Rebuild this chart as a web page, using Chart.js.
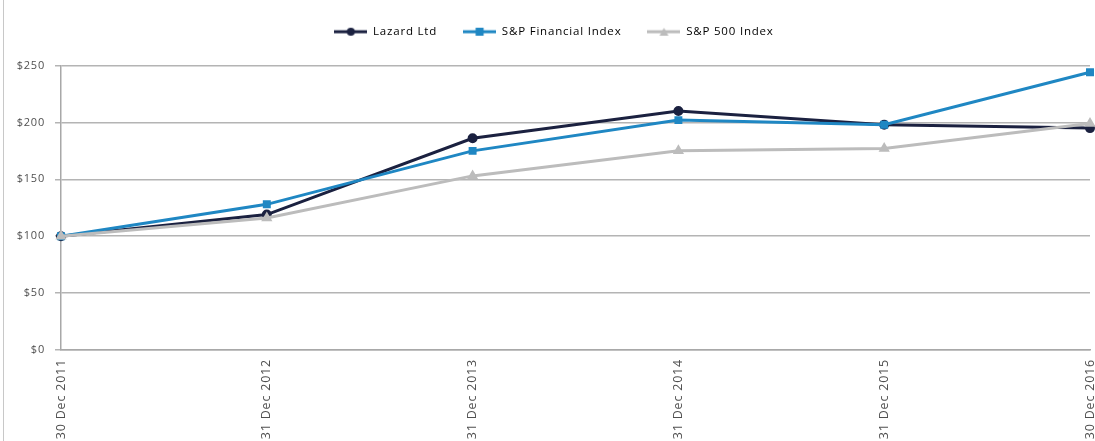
<!DOCTYPE html>
<html>
<head>
<meta charset="utf-8">
<script src="https://cdn.jsdelivr.net/npm/chart.js@4.4.1/dist/chart.umd.min.js"></script>
<style>
  html, body { margin: 0; padding: 0; background: #fff; overflow: hidden; }
  #wrap { position: absolute; left: 0; top: 0; width: 1108px; height: 441px; }
  #edge { position: absolute; left: 3px; top: 0; width: 0; height: 441px; border-left: 1px solid #c8c8c8; }
</style>
</head>
<body>
<div id="wrap"><canvas id="chart" width="1108" height="441"></canvas></div>
<div id="edge"></div>
<script>
const dates = ['30 Dec 2011', '31 Dec 2012', '31 Dec 2013', '31 Dec 2014', '31 Dec 2015', '30 Dec 2016'];
const lazard = [100, 119, 186, 210, 198, 195];
const spFinancial = [100, 128, 175, 202, 198, 244];
const sp500 = [100, 116, 153, 175, 177, 199];
const yTicks = [0, 50, 100, 150, 200, 250];

// legend icon: short line with the marker in the middle
function legendIcon(color, shape) {
    const c = document.createElement('canvas');
    c.width = 33; c.height = 10;
    const ctx = c.getContext('2d');
    ctx.strokeStyle = color;
    ctx.fillStyle = color;
    ctx.lineWidth = 3;
    ctx.beginPath();
    ctx.moveTo(0, 5); ctx.lineTo(33, 5);
    ctx.stroke();
    ctx.beginPath();
    if (shape === 'circle') {
        ctx.arc(16.5, 5, 4, 0, Math.PI * 2);
    } else if (shape === 'rect') {
        ctx.rect(12.5, 1, 8, 8);
    } else {
        ctx.moveTo(16.5, 1); ctx.lineTo(21, 9); ctx.lineTo(12, 9); ctx.closePath();
    }
    ctx.fill();
    return c;
}

const series = [
    { label: 'Lazard Ltd', data: lazard, color: '#1b2140', shape: 'circle' },
    { label: 'S&P Financial Index', data: spFinancial, color: '#1f87c3', shape: 'rect' },
    { label: 'S&P 500 Index', data: sp500, color: '#bcbcbc', shape: 'triangle' }
];

// wider letter spacing, like the original export; extra gap under the legend
const spacing = {
    id: 'spacing',
    beforeInit: function (chart) {
        const fit = chart.legend.fit;
        chart.legend.fit = function () { fit.call(this); this.height += 18; };
    },
    beforeUpdate: function (chart) { chart.ctx.letterSpacing = '0.8px'; },
    beforeDraw: function (chart) { chart.ctx.letterSpacing = '0.8px'; }
};

new Chart(document.getElementById('chart'), {
    type: 'line',
    data: {
        labels: dates,
        datasets: series.map(function (s, i) {
            return {
                label: s.label,
                data: s.data,
                borderColor: s.color,
                backgroundColor: s.color,
                borderWidth: 3,
                pointStyle: s.shape,
                pointRadius: 3.5,
                pointHoverRadius: 3.5,
                tension: 0,
                fill: false,
                order: 3 - i
            };
        })
    },
    plugins: [spacing],
    options: {
        responsive: false,
        animation: false,
        layout: { padding: { top: 0, left: 0, right: 0, bottom: 0 } },
        scales: {
            x: {
                offset: false,
                afterFit: function (axis) { axis.height = 91; },
                grid: { display: false, drawTicks: true, tickLength: 6, color: '#a8a8a8' },
                border: { color: '#a8a8a8', width: 1.5 },
                ticks: {
                    minRotation: 90, maxRotation: 90, autoSkip: false,
                    color: '#505050', padding: 3,
                    font: { family: 'Open Sans', size: 12.5 }
                }
            },
            y: {
                min: 0, max: 250,
                afterFit: function (axis) { axis.width = 61; },
                afterBuildTicks: function (axis) { axis.ticks = yTicks.map(function (v) { return { value: v }; }); },
                grid: { color: '#b4b4b4', lineWidth: 1.5, tickLength: 6 },
                border: { color: '#a8a8a8', width: 1.5 },
                ticks: {
                    color: '#505050', padding: 10,
                    font: { family: 'Open Sans', size: 11 },
                    callback: function (v) { return '$' + v; }
                }
            }
        },
        plugins: {
            tooltip: { enabled: false },
            legend: {
                display: true,
                position: 'top',
                labels: {
                    usePointStyle: true,
                    pointStyleWidth: 33,
                    padding: 26,
                    color: '#404040',
                    font: { family: 'Open Sans', size: 11.5 },
                    generateLabels: function (chart) {
                        return series.map(function (s, i) {
                            return {
                                text: s.label,
                                pointStyle: legendIcon(s.color, s.shape),
                                fillStyle: s.color,
                                strokeStyle: s.color,
                                lineWidth: 0,
                                datasetIndex: i,
                                hidden: false
                            };
                        });
                    }
                }
            }
        }
    }
});
</script>
</body>
</html>
